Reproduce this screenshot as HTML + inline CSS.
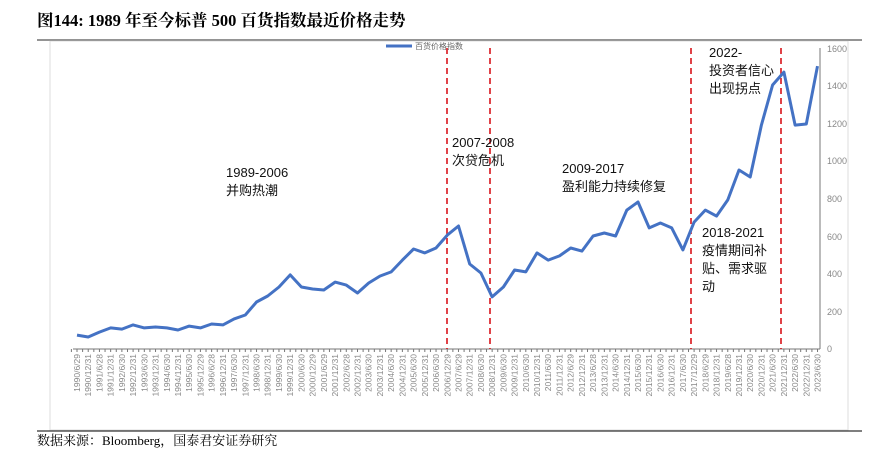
<!DOCTYPE html>
<html><head><meta charset="utf-8"><style>
body{margin:0;background:#fff;width:882px;height:461px;overflow:hidden}
svg{display:block}
</style></head><body>
<svg width="882" height="461" xmlns="http://www.w3.org/2000/svg">
<text x="37" y="26" font-family="Liberation Serif,Noto Serif CJK SC,serif" font-weight="bold" font-size="16.5" fill="#000">图144:  1989 年至今标普 500 百货指数最近价格走势</text>
<line x1="37" y1="40" x2="862" y2="40" stroke="#555" stroke-width="1.2"/>
<rect x="50" y="41" width="798" height="389" fill="none" stroke="#ddd" stroke-width="1"/>
<line x1="37" y1="431" x2="862" y2="431" stroke="#333" stroke-width="1.2"/>
<text x="37" y="445" font-family="Liberation Serif,Noto Serif CJK SC,serif" font-size="13" fill="#000">数据来源：Bloomberg，国泰君安证券研究</text>
<!-- axes -->
<line x1="73" y1="349" x2="820" y2="349" stroke="#777" stroke-width="1"/>
<line x1="820" y1="48" x2="820" y2="349" stroke="#777" stroke-width="1"/>
<g stroke="#777" stroke-width="1" id="ticks"></g>
<g font-family="Liberation Sans,sans-serif" font-size="9" fill="#888">
<text x="827" y="352">0</text><text x="827" y="315">200</text><text x="827" y="277">400</text><text x="827" y="240">600</text><text x="827" y="202">800</text><text x="827" y="164">1000</text><text x="827" y="127">1200</text><text x="827" y="89">1400</text><text x="827" y="52">1600</text>
</g>
<g id="xl" font-family="Liberation Sans,sans-serif" font-size="8.5" fill="#888"></g>
<g stroke="#d9141b" stroke-width="1.6" stroke-dasharray="6,4">
<line x1="447" y1="48" x2="447" y2="349"/><line x1="490" y1="48" x2="490" y2="349"/><line x1="691" y1="48" x2="691" y2="349"/><line x1="781" y1="48" x2="781" y2="349"/>
</g>
<polyline id="ser" fill="none" stroke="#4472c4" stroke-width="3" stroke-linejoin="round"/>
<line x1="386" y1="46" x2="412" y2="46" stroke="#4472c4" stroke-width="3"/>
<text x="415" y="49" font-family="Noto Sans CJK SC,sans-serif" font-size="8" fill="#666">百货价格指数</text>
<g font-family="Liberation Sans,Noto Sans CJK SC,sans-serif" font-size="13" fill="#111">
<text x="226" y="177">1989-2006</text><text x="226" y="195">并购热潮</text>
<text x="452" y="147">2007-2008</text><text x="452" y="165">次贷危机</text>
<text x="562" y="173">2009-2017</text><text x="562" y="191">盈利能力持续修复</text>
<text x="709" y="57">2022-</text><text x="709" y="75">投资者信心</text><text x="709" y="93">出现拐点</text>
<text x="702" y="237">2018-2021</text><text x="702" y="255">疫情期间补</text><text x="702" y="273">贴、需求驱</text><text x="702" y="291">动</text>
</g>
</svg>
<script>
var v=[74,64,90,112,106,128,112,117,112,101,122,112,133,128,160,181,250,282,330,394,330,319,314,356,340,298,351,388,410,473,532,511,537,606,654,452,404,277,330,420,410,511,473,495,537,521,601,617,601,739,782,644,670,644,527,675,739,707,793,952,915,1191,1404,1473,1191,1197,1505];
var lab=[];for(var y=1990;y<=2023;y++){lab.push(y+"/6/30");if(y<2023)lab.push(y+"/12/31");}
var fix={0:"1990/6/29",2:"1991/6/28",18:"1999/6/30",32:"2006/6/30",33:"2006/12/29",34:"2007/6/29",44:"2012/6/29",46:"2013/6/28",55:"2017/12/29",56:"2018/6/29",58:"2019/6/28",25:"1995/12/29",12:"1996/6/28",20:"2000/6/30",21:"2000/12/29",22:"2001/6/29",24:"2002/6/28",26:"2003/6/30",51:"2015/12/31"};
lab[12]="1996/6/28";lab[25]="2002/12/31";lab[11]="1995/12/29";lab[21]="2000/12/29";lab[22]="2001/6/29";lab[24]="2002/6/28";
for(var k in fix){if(k!=12&&k!=25&&k!=21&&k!=22&&k!=24&&k!=51&&k!=20&&k!=26)lab[k]=fix[k];}
var pts=[],xl=document.getElementById('xl'),tk=document.getElementById('ticks'),ns="http://www.w3.org/2000/svg";
for(var i=0;i<v.length;i++){var x=77+i*11.22;pts.push(x.toFixed(1)+","+(349-v[i]*0.188).toFixed(1));
var t=document.createElementNS(ns,'text');t.setAttribute('transform','translate('+(x+3)+',354) rotate(-90)');t.setAttribute('text-anchor','end');t.textContent=lab[i];xl.appendChild(t);
for(var j=0;j<2;j++){var l=document.createElementNS(ns,'line');var xx=x-5.61+j*5.61;l.setAttribute('x1',xx);l.setAttribute('x2',xx);l.setAttribute('y1',349);l.setAttribute('y2',352);tk.appendChild(l);}}
document.getElementById('ser').setAttribute('points',pts.join(' '));
</script>
</body></html>
